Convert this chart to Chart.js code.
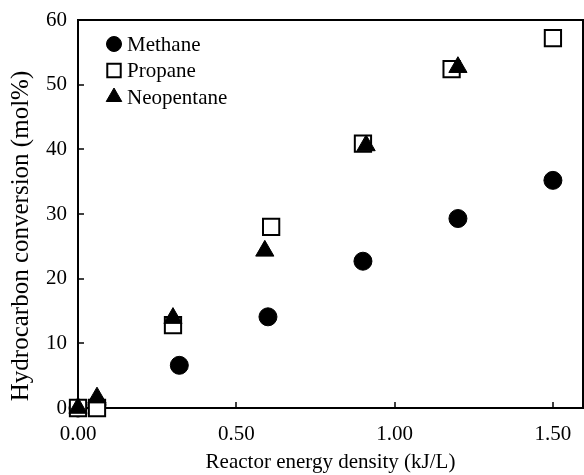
<!DOCTYPE html>
<html><head><meta charset="utf-8">
<script src="https://cdn.jsdelivr.net/npm/chart.js@4/dist/chart.umd.min.js"></script>
<style>html,body{margin:0;padding:0;background:#fff;overflow:hidden}#wrap{position:absolute;left:0;top:0;width:584px;height:475px}canvas{display:block}</style>
</head><body><div id="wrap"><canvas id="c"></canvas></div>
<script>
const seriesNames = ["Methane", "Propane", "Neopentane"];
const methaneX = [0.00, 0.06, 0.32, 0.60, 0.90, 1.20, 1.50];
const methaneY = [0.0, 0.5, 6.6, 14.1, 22.7, 29.3, 35.2];
const propaneX = [0.00, 0.06, 0.30, 0.61, 0.90, 1.18, 1.50];
const propaneY = [0.0, 0.0, 12.8, 28.0, 40.9, 52.4, 57.2];
const neoX = [0.00, 0.06, 0.30, 0.59, 0.91, 1.20];
const neoY = [0.0, 1.6, 13.9, 24.3, 40.6, 52.7];
const xTicks = [0, 0.5, 1.0, 1.5];
const yTicks = [0, 10, 20, 30, 40, 50, 60];
const xTitle = "Reactor energy density (kJ/L)";
const yTitle = "Hydrocarbon conversion (mol%)";

const pts = (xs, ys) => xs.map((x, i) => ({x, y: ys[i]}));
const FONT = "'Liberation Serif', 'DejaVu Serif', serif";

const styles = [
  {pointStyle: 'circle', pointRadius: 9, backgroundColor: '#000', borderColor: '#000', borderWidth: 1, legendRadius: 7.5, order: 2},
  {pointStyle: 'rect', pointRadius: 11.5, backgroundColor: '#fff', borderColor: '#000', borderWidth: 2, legendRadius: 9.5, order: 1},
  {pointStyle: 'triangle', pointRadius: 10.5, backgroundColor: '#000', borderColor: '#000', borderWidth: 1, legendRadius: 9, order: 0}
];
const data = [pts(methaneX, methaneY), pts(propaneX, propaneY), pts(neoX, neoY)];

const framePlugin = {
  id: 'frame',
  beforeDatasetsDraw(chart) {
    const {ctx, chartArea: a, scales} = chart;
    ctx.save();
    ctx.strokeStyle = '#000';
    ctx.lineWidth = 2;
    ctx.strokeRect(a.left, a.top, a.right - a.left, a.bottom - a.top);
    ctx.lineWidth = 1.5;
    xTicks.forEach(v => {
      const px = Math.round(scales.x.getPixelForValue(v));
      ctx.beginPath(); ctx.moveTo(px, a.bottom); ctx.lineTo(px, a.bottom - 6); ctx.stroke();
    });
    yTicks.forEach(v => {
      const py = Math.round(scales.y.getPixelForValue(v));
      ctx.beginPath(); ctx.moveTo(a.left, py); ctx.lineTo(a.left + 6, py); ctx.stroke();
    });
    // y-axis title
    ctx.save();
    ctx.translate(21, 236);
    ctx.rotate(-Math.PI / 2);
    ctx.font = "25px " + FONT;
    ctx.fillStyle = '#000';
    ctx.textAlign = 'center';
    ctx.textBaseline = 'middle';
    ctx.fillText(yTitle, 0, 0);
    ctx.restore();
    ctx.restore();
  },
  afterDatasetsDraw(chart) {
    const {ctx, chartArea: a} = chart;
    ctx.save();
    const x0 = a.left + 36, y0 = a.top + 24, dy = 26.5;
    ctx.font = "21px " + FONT;
    ctx.textBaseline = 'middle';
    seriesNames.forEach((n, i) => {
      const s = styles[i];
      ctx.fillStyle = s.backgroundColor;
      ctx.strokeStyle = s.borderColor;
      ctx.lineWidth = s.borderWidth;
      Chart.helpers.drawPoint(ctx, {pointStyle: s.pointStyle, radius: s.legendRadius, rotation: 0, borderWidth: s.borderWidth}, x0, y0 + i * dy);
      ctx.fillStyle = '#000';
      ctx.fillText(n, x0 + 13, y0 + i * dy + 1);
    });
    ctx.restore();
  }
};

new Chart(document.getElementById('c'), {
  type: 'scatter',
  data: {
    datasets: seriesNames.map((n, i) => ({
      label: n, data: data[i], clip: false, order: styles[i].order,
      pointStyle: styles[i].pointStyle,
      pointRadius: styles[i].pointRadius,
      pointHoverRadius: styles[i].pointRadius,
      backgroundColor: styles[i].backgroundColor,
      borderColor: styles[i].borderColor,
      borderWidth: styles[i].borderWidth
    }))
  },
  options: {
    responsive: true, maintainAspectRatio: false, animation: false,
    layout: {autoPadding: false, padding: {top: 20, right: 1, left: 0, bottom: 0}},
    plugins: {legend: {display: false}, tooltip: {enabled: false}},
    scales: {
      x: {
        type: 'linear', min: 0, max: 1.595,
        afterBuildTicks: s => { s.ticks = xTicks.map(v => ({value: v})); },
        afterFit: s => { s.height = 67; s.paddingLeft = 0; s.paddingRight = 0; },
        grid: {display: false, drawTicks: false},
        border: {display: false},
        ticks: {color: '#000', padding: 14, font: {family: FONT, size: 21}, maxRotation: 0,
          callback: v => Number(v).toFixed(2)},
        title: {display: true, text: xTitle, color: '#000', font: {family: FONT, size: 21}, padding: {top: 7, bottom: 0}}
      },
      y: {
        type: 'linear', min: 0, max: 60,
        afterBuildTicks: s => { s.ticks = yTicks.map(v => ({value: v})); },
        afterFit: s => { s.width = 78; s.paddingTop = 0; s.paddingBottom = 0; },
        grid: {display: false, drawTicks: false},
        border: {display: false},
        ticks: {color: '#000', padding: 11, font: {family: FONT, size: 21}},
        title: {display: false}
      }
    }
  },
  plugins: [framePlugin]
});
</script></body></html>
